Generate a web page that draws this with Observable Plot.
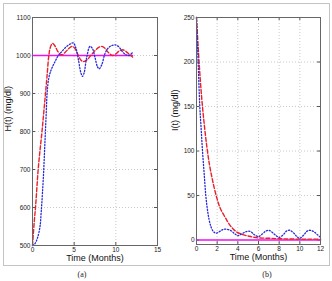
<!DOCTYPE html>
<html>
<head>
<meta charset="utf-8">
<script src="https://cdn.jsdelivr.net/npm/d3@7"></script>
<script src="https://cdn.jsdelivr.net/npm/@observablehq/plot@0.6"></script>
<style>
  html, body { margin: 0; padding: 0; background: #fff; }
  #wrap { position: relative; width: 332px; height: 281px; overflow: hidden; font-family: "Liberation Sans", Arial, sans-serif; }
  #border { position: absolute; left: 3px; top: 3px; width: 325px; height: 261px; border: 1px solid #c4c4c4; }
  .panel { position: absolute; top: 0; }
  .cap { position: absolute; top: 270px; font-family: "Liberation Serif", serif; font-size: 8px; color: #222; transform: translateX(-50%); }
</style>
</head>
<body>
<div id="wrap">
  <div id="border"></div>
  <div id="pa" class="panel" style="left:0px"></div>
  <div id="pb" class="panel" style="left:166px"></div>
  <div class="cap" style="left:82px">(a)</div>
  <div class="cap" style="left:267px">(b)</div>
</div>
<script>
// ---- Panel (a): H(t) ----
const hRedT  = [0, 0.2, 0.36, 0.52, 0.68, 0.9, 1.14, 1.35, 1.56, 1.76, 1.96, 2.15, 2.4, 2.7, 3.0, 3.3, 3.6, 3.9, 4.2, 4.5, 4.8, 5.1, 5.5, 5.8, 6.1, 6.5, 7.0, 7.5, 8.0, 8.3, 8.7, 9.1, 9.6, 10.0, 10.4, 10.8, 11.2, 11.6, 12];
const hRedV  = [500, 560, 600, 650, 700, 750, 800, 850, 900, 950, 1000, 1022, 1032, 1025, 1012, 1004, 1002, 1008, 1015, 1021, 1024, 1018, 1000, 988, 984, 988, 1000, 1013, 1022, 1024, 1019, 1008, 1000, 1004, 1012, 1015, 1011, 1003, 996];
const hBlueT = [0, 0.3, 0.6, 0.9, 1.05, 1.2, 1.35, 1.45, 1.55, 1.65, 1.75, 1.95, 2.2, 2.5, 2.8, 3.1, 3.5, 4.0, 4.5, 4.9, 5.2, 5.5, 5.8, 6.0, 6.2, 6.5, 6.9, 7.2, 7.5, 7.8, 8.0, 8.3, 8.7, 9.1, 9.5, 9.9, 10.3, 10.8, 11.2, 11.6, 12];
const hBlueV = [500, 505, 520, 550, 590, 640, 700, 750, 800, 850, 900, 940, 960, 975, 988, 1000, 1010, 1022, 1030, 1033, 1020, 990, 955, 945, 955, 995, 1024, 1018, 995, 970, 965, 975, 1005, 1020, 1026, 1028, 1024, 1010, 1002, 1000, 1008];
const hMagT  = [0, 12];
const hMagV  = [1000, 1000];
const aXTicks = [0, 5, 10, 15];
const aYTicks = [500, 600, 700, 800, 900, 1000, 1100];

// ---- Panel (b): I(t) ----
const iBlueT = [0, 0.08, 0.16, 0.32, 0.45, 0.58, 0.74, 0.9, 1.05, 1.2, 1.4, 1.6, 1.8, 2.0, 2.3, 2.6, 3.0, 3.4, 3.7, 4.0, 4.4, 4.7, 5.0, 5.3, 5.6, 6.0, 6.4, 6.7, 7.0, 7.4, 7.7, 8.0, 8.4, 8.7, 9.0, 9.4, 9.7, 10.0, 10.4, 10.7, 11.0, 11.4, 11.7, 12];
const iBlueV = [250, 225, 200, 150, 125, 100, 75, 50, 35, 24, 15, 10, 8, 8, 10, 12, 12, 10, 7, 5, 7, 9, 10, 9, 6, 4, 7, 10, 11, 8, 5, 3, 6, 10, 11, 8, 4, 2, 6, 10, 11, 9, 6, 3];
const iRedT  = [0, 0.25, 0.5, 0.75, 1, 1.25, 1.5, 1.75, 2, 2.25, 2.5, 2.8, 3.1, 3.5, 3.9, 4.5, 5, 5.9, 7, 8, 9, 10, 11, 12];
const iRedV  = [250, 200, 160, 130, 105, 85, 70, 57, 46, 37, 31, 25, 19, 13, 9, 6, 4.5, 2.5, 2, 1.5, 1.2, 1, 1, 1];
const iMagT  = [0, 12];
const iMagV  = [0, 0];
const bXTicks = [0, 2, 4, 6, 8, 10, 12];
const bYTicks = [0, 50, 100, 150, 200, 250];

const RED = "#e8202a", BLUE = "#2a2ad8", MAG = "#ee10ee";
const pts = (ts, vs) => ts.map((t, i) => ({t, v: vs[i]}));

function panel({width, height, mL, mR, mT, mB, xDom, yDom, xT, yT, gx, gy, red, blue, mag, ylabel, ylabDx}) {
  const pw = width - mL - mR, ph = height - mT - mB;
  const tickColor = "#555";
  const fmt = d => String(d);
  return Plot.plot({
    width, height,
    marginLeft: mL, marginRight: mR, marginTop: mT, marginBottom: mB,
    style: {fontFamily: "Liberation Sans, Arial, sans-serif", fontSize: "7px", color: "#222", background: "transparent"},
    x: {domain: xDom, ticks: xT},
    y: {domain: yDom, ticks: yT},
    marks: [
      Plot.gridX(gx, {stroke: "#bbb", strokeOpacity: 0.8, strokeDasharray: "1,2"}),
      Plot.gridY(gy, {stroke: "#bbb", strokeOpacity: 0.8, strokeDasharray: "1,2"}),
      Plot.axisX(xT, {tickSize: 0, tickPadding: 1.5, label: null, fontSize: 6.5, tickFormat: fmt}),
      Plot.axisY(yT, {tickSize: 0, tickPadding: 2, label: null, fontSize: 6.5, tickFormat: fmt}),
      Plot.tickX(xT, {x: d => d, insetTop: ph - 3, stroke: tickColor}),
      Plot.tickX(xT, {x: d => d, insetBottom: ph - 3, stroke: tickColor}),
      Plot.tickY(yT, {y: d => d, insetRight: pw - 3, stroke: tickColor}),
      Plot.tickY(yT, {y: d => d, insetLeft: pw - 3, stroke: tickColor}),
      Plot.line(mag, {x: "t", y: "v", stroke: MAG, strokeWidth: 1.6}),
      Plot.line(red, {x: "t", y: "v", stroke: RED, strokeWidth: 1.4, strokeDasharray: "4,2", curve: "catmull-rom"}),
      Plot.line(blue, {x: "t", y: "v", stroke: BLUE, strokeWidth: 1.3, strokeDasharray: "1.2,1.8", curve: "catmull-rom"}),
      Plot.frame({stroke: "#666"}),
      Plot.text(["Time (Months)"], {frameAnchor: "bottom", dy: 15, fontSize: 9, fill: "#111"}),
      Plot.text([ylabel], {frameAnchor: "left", rotate: -90, dx: ylabDx, fontSize: 9, fill: "#111"})
    ]
  });
}

document.getElementById("pa").append(panel({
  width: 166, height: 266, mL: 32, mR: 9, mT: 17, mB: 21,
  xDom: [0, 15], yDom: [500, 1100], xT: aXTicks, yT: aYTicks,
  gx: [5, 10], gy: [600, 700, 800, 900, 1000],
  red: pts(hRedT, hRedV), blue: pts(hBlueT, hBlueV), mag: pts(hMagT, hMagV),
  ylabel: "H(t) (mg/dl)", ylabDx: -24
}));

document.getElementById("pb").append(panel({
  width: 166, height: 266, mL: 30, mR: 12, mT: 17, mB: 22,
  xDom: [0, 12], yDom: [-5, 250], xT: bXTicks, yT: bYTicks,
  gx: [2, 4, 6, 8, 10], gy: [50, 100, 150, 200],
  red: pts(iRedT, iRedV), blue: pts(iBlueT, iBlueV), mag: pts(iMagT, iMagV),
  ylabel: "I(t) (mg/dl)", ylabDx: -21
}));
</script>
</body>
</html>
